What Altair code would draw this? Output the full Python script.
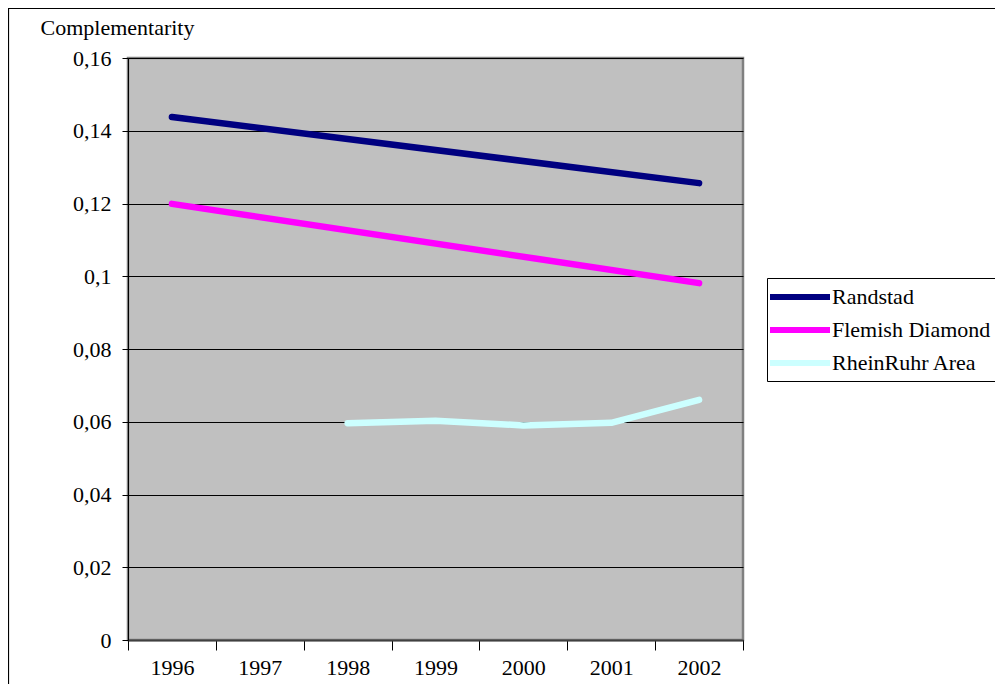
import altair as alt
import pandas as pd

years = ["1996", "1997", "1998", "1999", "2000", "2001", "2002"]
series_names = ["Randstad", "Flemish Diamond", "RheinRuhr Area"]
series_colors = ["#000080", "#FF00FF", "#CCFFFF"]

randstad_years = ["1996", "2002"]
randstad_vals = [0.1438, 0.1256]
flemish_years = ["1996", "2002"]
flemish_vals = [0.1199, 0.0981]
rheinruhr_years = ["1998", "1999", "2000", "2001", "2002"]
rheinruhr_vals = [0.0596, 0.0603, 0.0590, 0.0597, 0.0660]

y_ticks = [0, 0.02, 0.04, 0.06, 0.08, 0.1, 0.12, 0.14, 0.16]

rows = []
for name, ys, vs in [
    ("Randstad", randstad_years, randstad_vals),
    ("Flemish Diamond", flemish_years, flemish_vals),
    ("RheinRuhr Area", rheinruhr_years, rheinruhr_vals),
]:
    for yr, v in zip(ys, vs):
        rows.append({"year": yr, "value": v, "series": name})
df = pd.DataFrame(rows)

FONT = "Times New Roman, Liberation Serif, serif"
FS = 22

frame = alt.Chart(pd.DataFrame({"a": [0]})).mark_rect(
    fill=None, stroke="black", strokeWidth=1.2, clip=False
).encode(
    x=alt.value(-119.5), x2=alt.value(900), y=alt.value(-49.5), y2=alt.value(720)
)

lines = alt.Chart(df).mark_line(strokeWidth=6.5, strokeCap="round", strokeJoin="round").encode(
    x=alt.X(
        "year:O",
        scale=alt.Scale(type="band", domain=years, paddingInner=0, paddingOuter=0),
        bandPosition=0.5,
        axis=alt.Axis(
            title=None,
            labelAngle=0,
            tickBand="extent",
            tickSize=10,
            tickColor="black",
            domainColor="#404040",
            domainWidth=2,
            grid=False,
            labelFont=FONT,
            labelFontSize=FS,
            labelColor="black",
            labelPadding=7,
        ),
    ),
    y=alt.Y(
        "value:Q",
        scale=alt.Scale(domain=[0, 0.16], nice=False, zero=True),
        axis=alt.Axis(
            title="Complementarity",
            titleAngle=0,
            titleAlign="left",
            titleBaseline="alphabetic",
            titleX=-88,
            titleY=-24,
            titleFont=FONT,
            titleFontSize=FS,
            titleFontWeight="normal",
            titleColor="black",
            values=y_ticks,
            labelExpr="replace(toString(datum.value), '.', ',')",
            labelFont=FONT,
            labelFontSize=FS,
            labelColor="black",
            labelPadding=11,
            tickSize=6,
            tickColor="black",
            domainColor="black",
            grid=True,
            gridColor="black",
            gridWidth=1,
        ),
    ),
    color=alt.Color(
        "series:N",
        scale=alt.Scale(domain=series_names, range=series_colors),
        legend=alt.Legend(
            title=None,
            orient="none",
            legendX=639,
            legendY=220,
            strokeColor="black",
            padding=6,
            symbolType="M-1.6,0H4.4",
            symbolSize=400,
            symbolStrokeWidth=6,
            symbolFillColor="transparent",
            labelFont=FONT,
            labelFontSize=FS,
            labelColor="black",
            labelOffset=33,
            labelExpr="datum.label + '  '",
            rowPadding=8,
        ),
    ),
    detail="series:N",
)

chart = alt.layer(frame, lines).properties(
    width=615,
    height=582,
    padding={"left": 120, "top": 50, "right": 252, "bottom": 44},
    autosize=alt.AutoSizeParams(type="none"),
    background="white",
).configure_view(
    fill="#C0C0C0", stroke="#808080", strokeWidth=2.5
)

chart.save("out.html", embed_options={"renderer": "svg", "actions": False})
